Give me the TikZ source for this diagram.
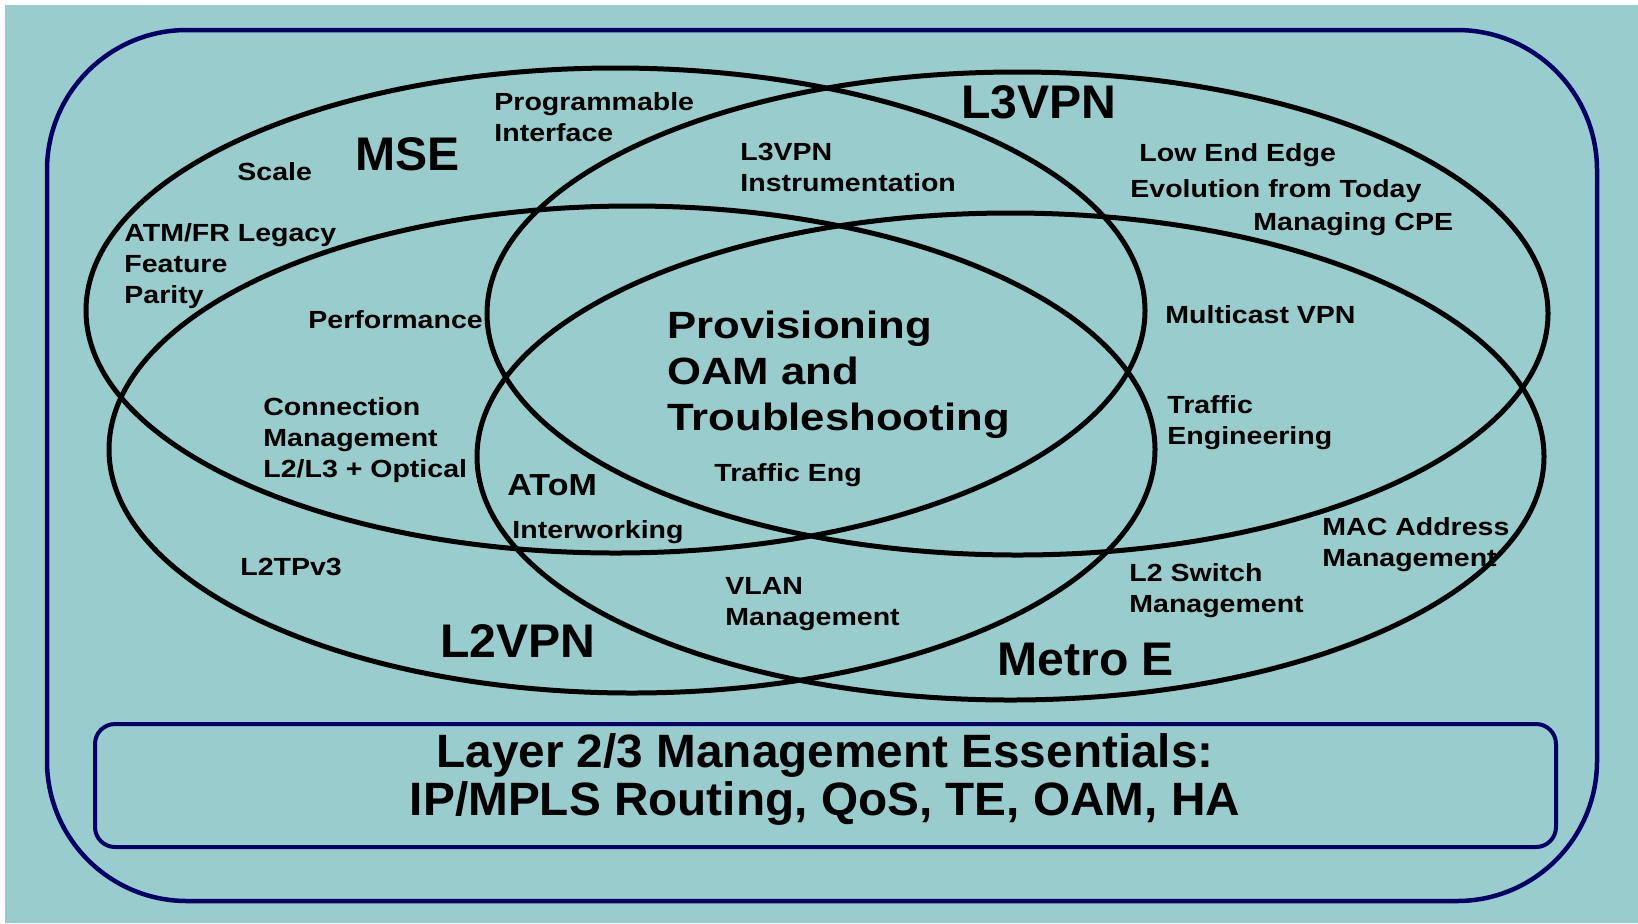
\documentclass[tikz,border=0pt]{standalone}
\usepackage{fontspec}
% bold sans faces at three widths
\newfontfamily\sfw{Liberation Sans}[UprightFont=* Bold, FakeStretch=1.15]
\newfontfamily\sfm{Liberation Sans}[UprightFont=* Bold, FakeStretch=1.12]
\newfontfamily\sft{Liberation Sans}[UprightFont=* Bold, FakeStretch=1.02]
\definecolor{teal}{RGB}{153,204,204}
\definecolor{navy}{RGB}{0,0,102}
\begin{document}
\begin{tikzpicture}[x=0.5pt,y=-0.5pt,
  lbl/.style={font=\sfw\fontsize{12.4pt}{15.5pt}\selectfont, anchor=north west, inner sep=0pt, align=left},
  core/.style={font=\sfw\fontsize{19pt}{23pt}\selectfont, anchor=north west, inner sep=0pt, align=left},
  mid/.style={font=\sfm\fontsize{15.2pt}{18pt}\selectfont, anchor=north west, inner sep=0pt, align=left},
  title/.style={font=\sft\fontsize{23.6pt}{28pt}\selectfont, anchor=north west, inner sep=0pt},
  ring/.style={draw=black, line width=2.5pt},
  frame/.style={draw=navy, line width=2.25pt}]
\useasboundingbox (0,0) rectangle (1638,923);
\fill[white] (0,0) rectangle (1638,923);
\fill[teal] (5,5) rectangle (1638,923);

% outer frame
\draw[frame, rounded corners=70pt] (47,30) rectangle (1597,901);

% the four overlapping areas
\draw[ring] (615.5,310.5) ellipse [x radius=529.5, y radius=242.5];
\draw[ring] (1017.5,313.5) ellipse [x radius=530.5, y radius=241.5];
\draw[ring] (632,449.5) ellipse [x radius=523, y radius=243.5];
\draw[ring] (1010.5,456.5) ellipse [x radius=533.5, y radius=243.5];

% essentials bar
\draw[frame, line width=2pt, rounded corners=10pt] (95,724) rectangle (1556,847);

% area titles
\node[title] (mse) at (355,137) {MSE};
\node[title] (l3vpn) at (961,85) {L3VPN};
\node[title] (l2vpn) at (440,624) {L2VPN};
\node[title] (metro) at (997,643) {Metro E};

% labels
\node[lbl] (prog) at (494,92) {Programmable\\Interface};
\node[lbl] (scale) at (237,162) {Scale};
\node[lbl] (instr) at (740,143) {L3VPN\\Instrumentation};
\node[lbl] (lowend) at (1139,143) {Low End Edge};
\node[lbl] (evol) at (1130,179) {Evolution from Today};
\node[lbl] (cpe) at (1253,212) {Managing CPE};
\node[lbl] (atmfr) at (124,223) {ATM/FR Legacy\\Feature\\Parity};
\node[lbl] (perf) at (308,310) {Performance};
\node[lbl] (mcast) at (1165,305) {Multicast VPN};
\node[lbl] (conn) at (263,397) {Connection\\Management\\L2/L3 + Optical};
\node[lbl] (te) at (1167,395) {Traffic\\Engineering};
\node[lbl] (teng) at (714,463) {Traffic Eng};
\node[lbl] (interw) at (512,520) {Interworking};
\node[lbl] (l2tp) at (240,558) {L2TPv3};
\node[lbl] (mac) at (1322,517) {MAC Address\\Management};
\node[lbl] (l2sw) at (1129,563) {L2 Switch\\Management};
\node[lbl] (vlan) at (725,577) {VLAN\\Management};
\node[mid] (atom) at (507,474) {AToM};
\node[core] (prov) at (667,311) {Provisioning\\OAM and\\Troubleshooting};

% essentials text
\node[font=\sft\fontsize{23.4pt}{24pt}\selectfont, anchor=north, inner sep=0pt, align=center]
  (ess) at (825,733) {Layer 2/3 Management Essentials:\\IP/MPLS Routing, QoS, TE, OAM, HA};
\end{tikzpicture}
\end{document}
